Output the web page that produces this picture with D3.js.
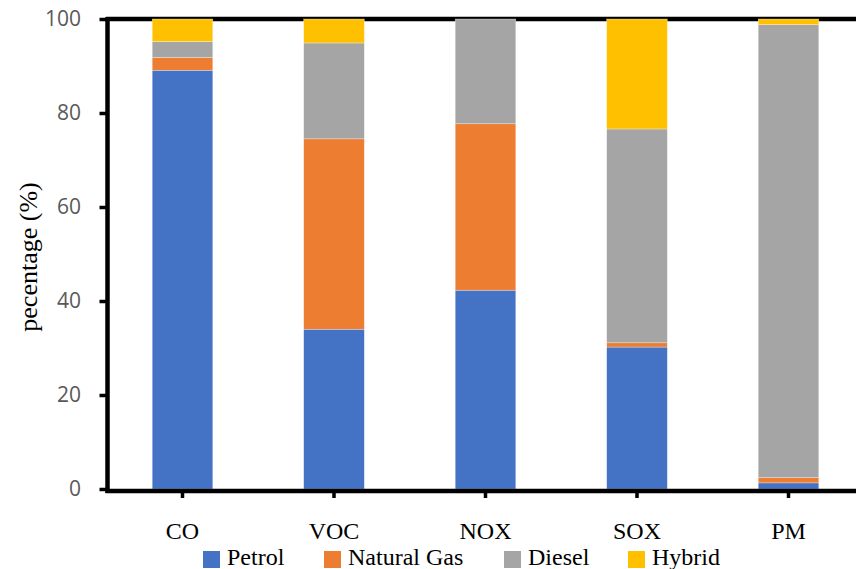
<!DOCTYPE html>
<html>
<head>
<meta charset="utf-8">
<script src="https://cdn.jsdelivr.net/npm/d3@7"></script>
<style>
  html, body { margin: 0; padding: 0; background: #fff; }
  svg { display: block; }
</style>
</head>
<body>
<svg id="chart" width="856" height="569"></svg>
<script>
const categories = ["CO", "VOC", "NOX", "SOX", "PM"];
const seriesNames = ["Petrol", "Natural Gas", "Diesel", "Hybrid"];
const petrol     = [89.1, 34.0, 42.3, 30.2, 1.3];
const naturalGas = [2.7, 40.5, 35.4, 0.9, 1.1];
const diesel     = [3.4, 20.4, 22.3, 45.5, 96.4];
const hybrid     = [4.8, 5.1, 0.0, 23.4, 1.2];
const yTicks = [0, 20, 40, 60, 80, 100];
const colors = ["#4472C4", "#ED7D31", "#A5A5A5", "#FFC000"];

const rows = categories.map((c, i) => ({
  cat: c,
  "Petrol": petrol[i],
  "Natural Gas": naturalGas[i],
  "Diesel": diesel[i],
  "Hybrid": hybrid[i]
}));

const serif = "'Liberation Serif', 'Times New Roman', serif";
const svg = d3.select("#chart");
const x = d3.scaleBand().domain(categories).range([106.75, 864.25]).paddingInner(0.6).paddingOuter(0.3);
const y = d3.scaleLinear().domain([0, 100]).range([489, 19]);
const color = d3.scaleOrdinal().domain(seriesNames).range(colors);

// top frame line
svg.append("line").attr("x1", 106).attr("x2", 856).attr("y1", y(100)).attr("y2", y(100))
  .attr("stroke", "#000").attr("stroke-width", 4.5);

const stack = d3.stack().keys(seriesNames)(rows);
svg.append("g").selectAll("g").data(stack).join("g")
  .attr("fill", d => color(d.key))
  .selectAll("rect").data(d => d).join("rect")
  .attr("x", d => x(d.data.cat))
  .attr("width", x.bandwidth())
  .attr("y", d => y(d[1]))
  .attr("height", d => Math.max(0, y(d[0]) - y(d[1])))
  .attr("stroke", "#fff").attr("stroke-width", 0.5).attr("stroke-opacity", 0.6);

// y axis
const yAxis = svg.append("g").attr("transform", "translate(107.5,0)")
  .call(d3.axisLeft(y).tickValues(yTicks).tickSize(8).tickPadding(18.5).tickFormat(d3.format("d")));
yAxis.select(".domain").attr("stroke", "#000").attr("stroke-width", 4.5)
  .attr("d", `M0,${y(100) - 2}V${491 + 2}`);
yAxis.selectAll(".tick line").attr("stroke", "#000").attr("stroke-width", 3.5);
yAxis.selectAll(".tick text").attr("fill", "#595959")
  .attr("font-family", "'Open Sans', sans-serif").attr("font-size", 21)
  .style("font-family", "'Open Sans', sans-serif").style("font-size", "21px");

// x axis
const xAxis = svg.append("g").attr("transform", "translate(0,491)")
  .call(d3.axisBottom(x).tickSize(7).tickPadding(24));
xAxis.select(".domain").attr("stroke", "#000").attr("stroke-width", 4.5)
  .attr("d", "M105.5,0H856");
xAxis.selectAll(".tick line").attr("stroke", "#000").attr("stroke-width", 3.5);
xAxis.selectAll(".tick text").attr("fill", "#000")
  .attr("font-family", serif).attr("font-size", 24)
  .style("font-family", serif).style("font-size", "24px");

// y axis title
svg.append("text")
  .attr("transform", "translate(37,257) rotate(-90)")
  .attr("text-anchor", "middle")
  .attr("font-family", serif).attr("font-size", 26)
  .style("font-family", serif).style("font-size", "26px")
  .attr("fill", "#000")
  .text("pecentage (%)");

// legend
const legendX = [203, 324, 504, 628];
const legend = svg.append("g").selectAll("g").data(seriesNames).join("g")
  .attr("transform", (d, i) => `translate(${legendX[i]},551)`);
legend.append("rect").attr("width", 17).attr("height", 17).attr("fill", d => color(d));
legend.append("text").attr("x", 24).attr("y", 13.5)
  .attr("font-family", serif).attr("font-size", 24)
  .style("font-family", serif).style("font-size", "24px")
  .attr("fill", "#000").text(d => d);
</script>
</body>
</html>
